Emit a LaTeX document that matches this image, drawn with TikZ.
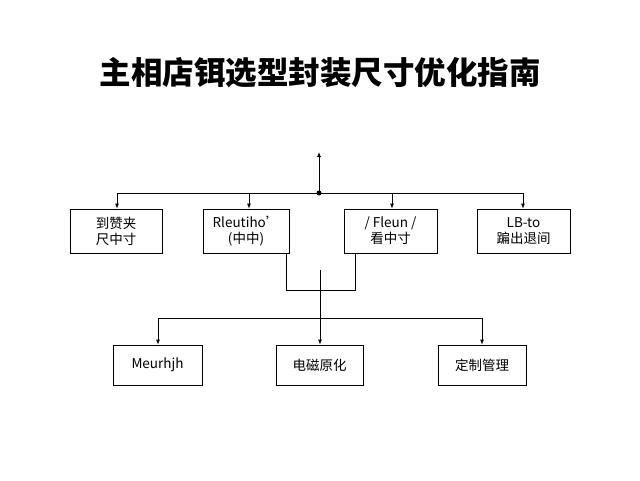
\documentclass[tikz,border=0pt]{standalone}
\usepackage{fontspec}
\setmainfont{Noto Sans CJK SC}
\usetikzlibrary{arrows.meta}
\tikzset{>=latex}
\tikzstyle{box} = [rectangle, draw=black, thick, minimum height=44pt, align=center, font=\fontsize{13.5}{16}\selectfont, inner sep=0pt]
\tikzstyle{lbox} = [box, minimum height=40pt]
\tikzstyle{link} = [-{Latex[length=5pt,width=4pt]}, thick, draw=black]
\begin{document}
\begin{tikzpicture}[x=1pt, y=-1pt]
\useasboundingbox (0,0) rectangle (640,480);
\node [font=\fontsize{31.5}{34}\selectfont\bfseries] (T) at (320, 73) {主相店铒选型封装尺寸优化指南};
\node [box, minimum width=92pt] (A1) at (116, 231) {到赞夹\\尺中寸};
\node [box, minimum width=86pt] (A2) at (246, 231) {Rleutiho'\\(中中)};
\node [box, minimum width=93pt] (A3) at (390.5, 231) {/ Fleun /\\看中寸};
\node [box, minimum width=93pt] (A4) at (523.5, 231) {LB-to\\蹁出退间};
\node [lbox, minimum width=89pt] (B1) at (157.5, 365) {Meurhjh};
\node [lbox, minimum width=87pt] (B2) at (319.5, 365) {电磁原化};
\node [lbox, minimum width=88pt] (B3) at (482, 365) {定制管理};
\coordinate (top) at (319, 152);
\coordinate (hub) at (319, 193);
\coordinate (mid) at (320, 270);
\coordinate (low) at (320, 318);
\draw [link] (hub) -- (top);
\fill (hub) circle (2.5pt);
\draw [thick] (117, 193) -- (523, 193);
\draw [link] (117, 193) -- (A1.north -| 117, 0);
\draw [link] (249, 193) -- (A2.north -| 249, 0);
\draw [link] (392, 193) -- (A3.north -| 392, 0);
\draw [link] (523, 193) -- (A4.north -| 523, 0);
\draw [thick] (286, 253) -- (286, 290) -- (355, 290) -- (355, 253);
\draw [thick] (mid) -- (low);
\draw [thick] (158, 318) -- (482, 318);
\draw [link] (158, 318) -- (B1.north -| 158, 0);
\draw [link] (low) -- (B2.north -| low);
\draw [link] (482, 318) -- (B3.north -| 482, 0);
\end{tikzpicture}
\end{document}
